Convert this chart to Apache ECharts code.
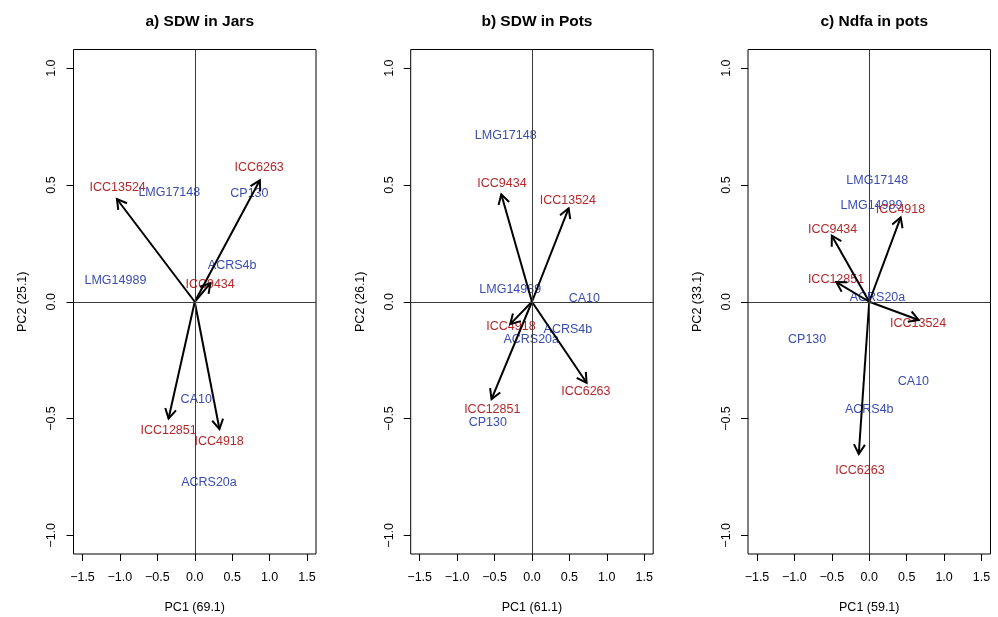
<!DOCTYPE html>
<html>
<head>
<meta charset="utf-8">
<title>PCA biplots</title>
<script src="https://cdn.jsdelivr.net/npm/echarts@6/dist/echarts.min.js"></script>
<style>
  html, body { margin: 0; padding: 0; background: #fff; }
  #main { width: 998px; height: 617px; }
</style>
</head>
<body>
<div id="main"></div>
<script>
// panel titles and axis names
var panelTitles = ['a) SDW in Jars', 'b) SDW in Pots', 'c) Ndfa in pots']
var xNames = ['PC1 (69.1)', 'PC1 (61.1)', 'PC1 (59.1)']
var yNames = ['PC2 (25.1)', 'PC2 (26.1)', 'PC2 (33.1)']

// tick labels
var xTicks = [-1.5, -1.0, -0.5, 0.0, 0.5, 1.0, 1.5]
var yTicks = [-1.0, -0.5, 0.0, 0.5, 1.0]

// a) arrows (ICC loadings)
var jarsArrowNames = ['ICC13524', 'ICC6263', 'ICC9434', 'ICC12851', 'ICC4918']
var jarsArrowX = [-1.04, 0.87, 0.21, -0.35, 0.33]
var jarsArrowY = [0.44, 0.52, 0.08, -0.50, -0.545]
// a) text labels
var jarsLabelNames = ['ICC13524', 'LMG17148', 'CP130', 'ICC6263', 'ACRS4b', 'LMG14989', 'ICC9434', 'CA10', 'ICC12851', 'ICC4918', 'ACRS20a']
var jarsLabelX = [-1.03, -0.34, 0.73, 0.86, 0.50, -1.06, 0.205, 0.02, -0.35, 0.325, 0.19]
var jarsLabelY = [0.49, 0.467, 0.464, 0.574, 0.153, 0.09, 0.075, -0.418, -0.55, -0.60, -0.773]

// b) arrows
var potsArrowNames = ['ICC9434', 'ICC13524', 'ICC4918', 'ICC12851', 'ICC6263']
var potsArrowX = [-0.41, 0.49, -0.29, -0.54, 0.73]
var potsArrowY = [0.46, 0.40, -0.096, -0.417, -0.347]
// b) text labels
var potsLabelNames = ['LMG17148', 'ICC9434', 'ICC13524', 'LMG14989', 'CA10', 'ICC4918', 'ACRS4b', 'ACRS20a', 'ICC6263', 'ICC12851', 'CP130']
var potsLabelX = [-0.35, -0.40, 0.48, -0.29, 0.70, -0.28, 0.48, -0.01, 0.72, -0.53, -0.59]
var potsLabelY = [0.713, 0.507, 0.433, 0.053, 0.015, -0.107, -0.118, -0.161, -0.385, -0.46, -0.518]

// c) arrows
var ndfaArrowNames = ['ICC9434', 'ICC4918', 'ICC12851', 'ICC13524', 'ICC6263']
var ndfaArrowX = [-0.50, 0.42, -0.44, 0.66, -0.14]
var ndfaArrowY = [0.283, 0.361, 0.084, -0.078, -0.652]
// c) text labels
var ndfaLabelNames = ['LMG17148', 'LMG14989', 'ICC4918', 'ICC9434', 'ICC12851', 'ACRS20a', 'ICC13524', 'CP130', 'CA10', 'ACRS4b', 'ICC6263']
var ndfaLabelX = [0.107, 0.03, 0.418, -0.49, -0.444, 0.11, 0.653, -0.83, 0.59, 0.0, -0.124]
var ndfaLabelY = [0.517, 0.411, 0.396, 0.311, 0.093, 0.017, -0.093, -0.161, -0.343, -0.46, -0.724]

var panels = [
  { arrowNames: jarsArrowNames, ax: jarsArrowX, ay: jarsArrowY, labelNames: jarsLabelNames, lx: jarsLabelX, ly: jarsLabelY },
  { arrowNames: potsArrowNames, ax: potsArrowX, ay: potsArrowY, labelNames: potsLabelNames, lx: potsLabelX, ly: potsLabelY },
  { arrowNames: ndfaArrowNames, ax: ndfaArrowX, ay: ndfaArrowY, labelNames: ndfaLabelNames, lx: ndfaLabelX, ly: ndfaLabelY }
]

var gridLefts = [73.5, 410.7, 748]
var gridWidth = 242.5
var gridTop = 49.5
var gridHeight = 504.5

var RED = '#B5282B'
var BLUE = '#3A4DB0'
var FONT = '"Liberation Sans", Arial, Helvetica, sans-serif'

function fmt(v) {
  var s = Math.abs(v).toFixed(1)
  return v < 0 ? '\u2212' + s : s
}

var grids = [], xAxes = [], yAxes = [], titles = [], series = []

panels.forEach(function (p, i) {
  grids.push({
    left: gridLefts[i], top: gridTop, width: gridWidth, height: gridHeight,
    containLabel: false, outerBoundsMode: 'none',
    show: true, borderColor: '#000', borderWidth: 1, backgroundColor: 'transparent'
  })
  titles.push({
    text: panelTitles[i],
    left: gridLefts[i] + gridWidth / 2, top: 9, textAlign: 'center',
    textStyle: { fontFamily: FONT, fontSize: 15.5, fontWeight: 'bold', color: '#000' }
  })
  xAxes.push({
    type: 'value', gridIndex: i, min: -1.62, max: 1.62,
    name: xNames[i], nameLocation: 'middle', nameGap: 47,
    nameTextStyle: { fontFamily: FONT, fontSize: 12.5, color: '#000' },
    axisLine: { show: false, onZero: false },
    splitLine: { show: false },
    axisTick: { show: true, inside: false, length: 7, customValues: xTicks, lineStyle: { color: '#000', width: 1 } },
    axisLabel: { customValues: xTicks, margin: 17, formatter: fmt, fontFamily: FONT, fontSize: 12.5, color: '#000' }
  })
  yAxes.push({
    type: 'value', gridIndex: i, min: -1.08, max: 1.08,
    name: yNames[i], nameLocation: 'middle', nameGap: 44, nameRotate: 90,
    nameTextStyle: { fontFamily: FONT, fontSize: 12.5, color: '#000' },
    axisLine: { show: false, onZero: false },
    splitLine: { show: false },
    axisTick: { show: true, inside: false, length: 7, customValues: yTicks, lineStyle: { color: '#000', width: 1 } },
    axisLabel: { customValues: yTicks, rotate: 90, margin: 15, formatter: fmt, fontFamily: FONT, fontSize: 12.5, color: '#000' }
  })

  // text labels, with the zero cross lines
  var labelData = p.labelNames.map(function (n, k) { return [p.lx[k], p.ly[k], n] })
  series.push({
    type: 'custom', xAxisIndex: i, yAxisIndex: i, silent: true, z: 2,
    data: labelData,
    renderItem: function (params, api) {
      var pt = api.coord([api.value(0), api.value(1)])
      var name = labelData[params.dataIndex][2]
      var isArrow = p.arrowNames.indexOf(name) >= 0
      return {
        type: 'text',
        style: {
          text: name, x: pt[0], y: pt[1],
          fill: isArrow ? RED : BLUE,
          font: '12.5px ' + FONT,
          textAlign: 'center', textVerticalAlign: 'middle'
        }
      }
    },
    markLine: {
      silent: true, symbol: 'none', animation: false,
      label: { show: false },
      lineStyle: { color: '#3a3a3a', width: 1, type: 'solid' },
      data: [{ xAxis: 0 }, { yAxis: 0 }]
    }
  })

  // loading arrows with open heads
  var arrowData = p.ax.map(function (x, k) { return [x, p.ay[k]] })
  series.push({
    type: 'custom', xAxisIndex: i, yAxisIndex: i, silent: true, z: 3,
    data: arrowData,
    renderItem: function (params, api) {
      var o = api.coord([0, 0])
      var h = api.coord([api.value(0), api.value(1)])
      var ang = Math.atan2(h[1] - o[1], h[0] - o[0])
      var len = 11, spread = Math.PI / 6
      var l = [h[0] - len * Math.cos(ang - spread), h[1] - len * Math.sin(ang - spread)]
      var r = [h[0] - len * Math.cos(ang + spread), h[1] - len * Math.sin(ang + spread)]
      var st = { stroke: '#000', lineWidth: 2, fill: null, lineJoin: 'miter' }
      return {
        type: 'group',
        children: [
          { type: 'polyline', shape: { points: [o, h] }, style: st },
          { type: 'polyline', shape: { points: [l, h, r] }, style: st }
        ]
      }
    }
  })
})

var chart = echarts.init(document.getElementById('main'), null, { renderer: 'canvas' })
chart.setOption({
  backgroundColor: '#fff',
  animation: false,
  title: titles,
  grid: grids,
  xAxis: xAxes,
  yAxis: yAxes,
  series: series
})
</script>
</body>
</html>
